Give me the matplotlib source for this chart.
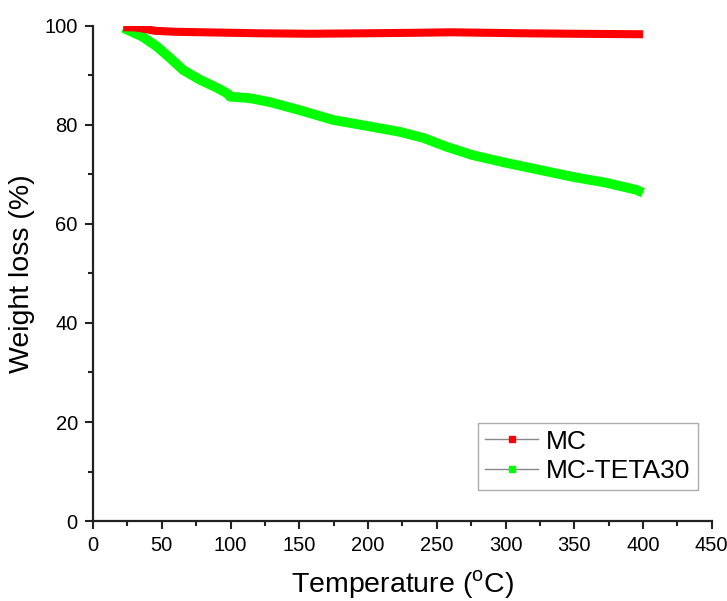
import matplotlib
matplotlib.use("Agg")
import matplotlib.pyplot as plt
from matplotlib.lines import Line2D
from matplotlib.ticker import MultipleLocator

plt.rcParams['font.family'] = ['Liberation Sans', 'DejaVu Sans']
plt.rcParams['mathtext.fontset'] = 'custom'
plt.rcParams['mathtext.rm'] = 'Liberation Sans'

mc_temp = [22, 30, 35, 45, 60, 80, 120, 158, 200, 235, 260, 312, 350, 400]
mc_weight = [99.7, 99.7, 99.5, 99.0, 98.8, 98.7, 98.5, 98.4, 98.5, 98.6, 98.7, 98.5, 98.4, 98.3]

teta_temp = [22, 36, 46.5, 56, 65.4, 77.8, 90, 98, 99.6, 114, 128.6, 150, 174.6,
             199, 223, 240, 257, 276, 301, 325, 349, 373.5, 395, 400]
teta_weight = [99.6, 97.8, 95.8, 93.5, 91.1, 89.1, 87.5, 86.3, 85.7, 85.4, 84.6, 83.0, 81.0,
               79.8, 78.6, 77.4, 75.6, 73.9, 72.3, 70.9, 69.5, 68.3, 66.9, 66.3]

series_names = ["MC", "MC-TETA30"]
colors = ["#ff0000", "#00ff00"]

fig = plt.figure(figsize=(7.27, 6.01), dpi=100)
ax = fig.add_axes([0.128, 0.133, 0.851, 0.824])

ax.plot(mc_temp, mc_weight, color=colors[0], lw=5.8, solid_capstyle='butt',
        solid_joinstyle='round', zorder=3)
ax.plot(teta_temp, teta_weight, color=colors[1], lw=7.0, solid_capstyle='butt',
        solid_joinstyle='round', zorder=2)

ax.set_xlim(0, 450)
ax.set_ylim(0, 100)
ax.xaxis.set_major_locator(MultipleLocator(50))
ax.xaxis.set_minor_locator(MultipleLocator(25))
ax.yaxis.set_major_locator(MultipleLocator(20))
ax.yaxis.set_minor_locator(MultipleLocator(10))

for s in ['top', 'right']:
    ax.spines[s].set_visible(False)
for s in ['left', 'bottom']:
    ax.spines[s].set_linewidth(1.6)
    ax.spines[s].set_color('#222222')

ax.tick_params(which='major', direction='out', length=6, width=1.5, labelsize=14.5,
               color='#222222', pad=5)
ax.tick_params(which='minor', direction='out', length=3.5, width=1.5, color='#222222')

ax.set_xlabel("Temperature ($^{\\mathrm{o}}$C)", fontsize=20.5, labelpad=9)
ax.set_ylabel("Weight loss (%)", fontsize=20.5, labelpad=7)

handles = [Line2D([0], [0], color='#888888', lw=1, marker='s', markersize=4,
                  markerfacecolor=c, markeredgecolor=c) for c in colors]
leg = ax.legend(handles, series_names, loc='lower right', bbox_to_anchor=(0.977, 0.0626),
                fontsize=19, frameon=True, fancybox=False, edgecolor='#999999',
                handlelength=2.0, handletextpad=0.3, borderpad=0.27, labelspacing=0.2,
                borderaxespad=0)
leg.get_frame().set_linewidth(1.0)

fig.savefig("out.png", dpi=100)
